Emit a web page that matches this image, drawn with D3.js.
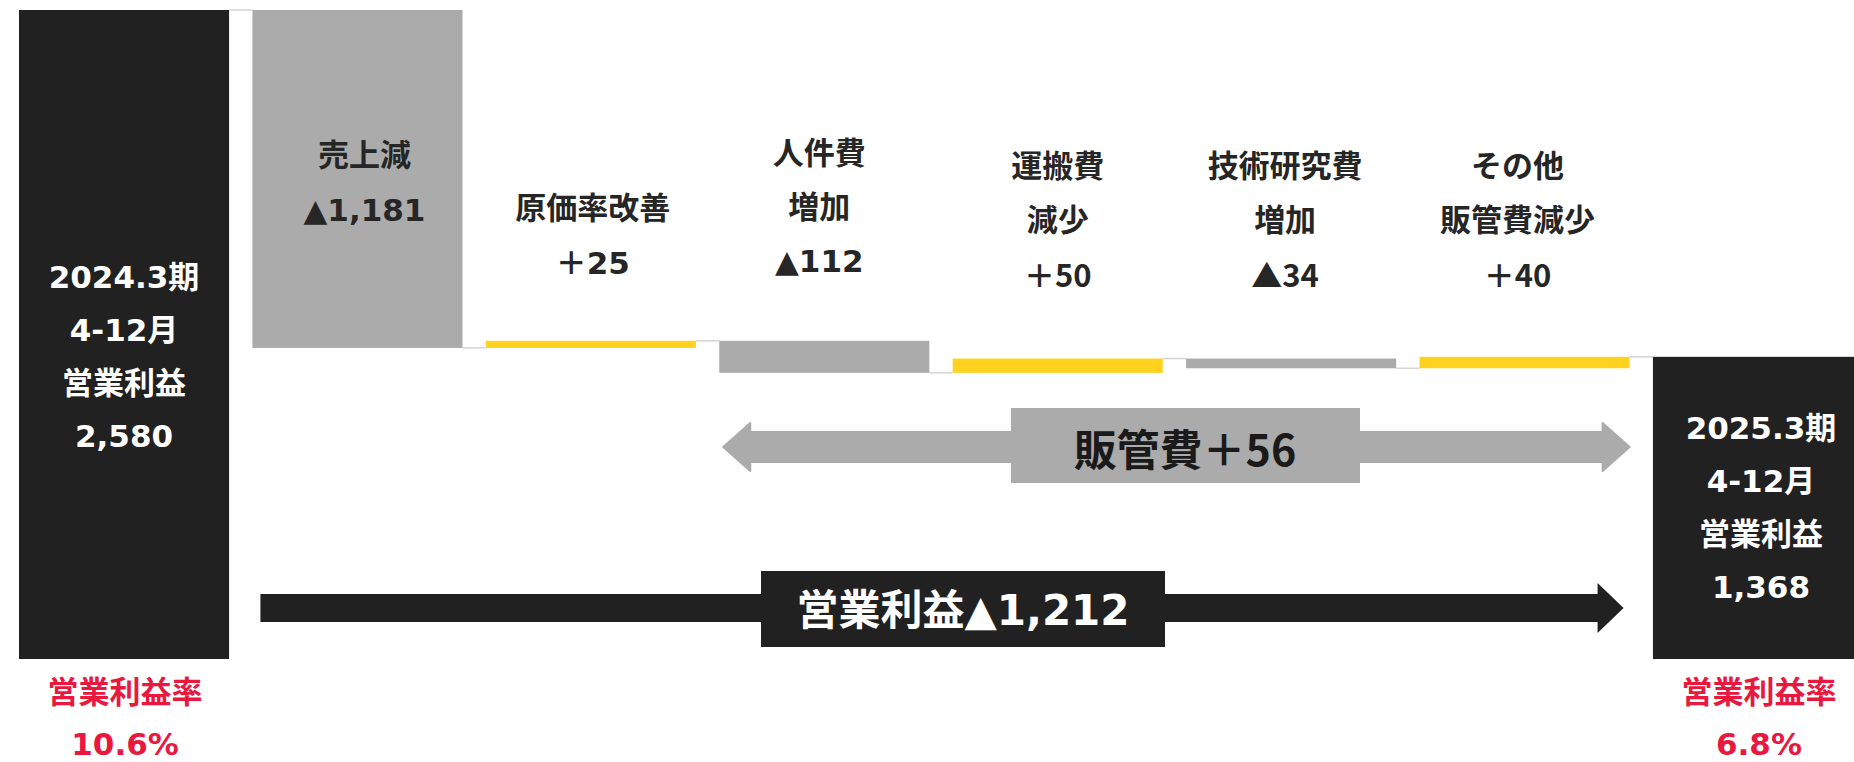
<!DOCTYPE html>
<meta charset="utf-8">
<style>
    body {
        margin: 0;
        background: #fff;
    }

    text {
        font-family: "DejaVu Sans", "Noto Sans CJK JP", sans-serif;
        font-weight: bold;
    }

    text.narrow {
        font-family: "Noto Sans CJK JP", sans-serif;
    }
</style>

<body>
    <script src="https://d3js.org/d3.v7.min.js"></script>
    <script>
        var width = 1854,
            height = 762;

        // data
        var categories = ['2024.3期', '売上減', '原価率改善', '人件費増加', '運搬費減少', '技術研究費増加', 'その他販管費減少', '2025.3期'];
        var values = [2580, -1181, 25, -112, 50, -34, 40, 1368];
        var kinds = ['total', 'delta', 'delta', 'delta', 'delta', 'delta', 'delta', 'total'];
        var labels = [
            ['2024.3期', '4-12月', '営業利益', '2,580'],
            ['売上減', '▲1,181'],
            ['原価率改善', '＋25'],
            ['人件費', '増加', '▲112'],
            ['運搬費', '減少', '＋50'],
            ['技術研究費', '増加', '▲34'],
            ['その他', '販管費減少', '＋40'],
            ['2025.3期', '4-12月', '営業利益', '1,368']
        ];
        var marginTitle = '営業利益率';
        var marginValues = ['10.6%', '6.8%'];
        var sgaItems = ['人件費増加', '運搬費減少', '技術研究費増加', 'その他販管費減少'];
        var axisMin = 312;

        // waterfall steps
        var running = 0;
        var steps = values.map(function (v, i) {
            var s;
            if (kinds[i] === 'total') {
                s = { start: axisMin, end: v };
                running = v;
            } else {
                s = { start: running, end: running + v };
                running += v;
            }
            s.name = categories[i];
            s.value = v;
            s.kind = kinds[i];
            s.i = i;
            return s;
        });

        var x = d3.scaleBand()
            .domain(categories)
            .range([19, 1863])
            .paddingInner(0.1)
            .paddingOuter(0);

        var y = d3.scaleLinear()
            .domain([axisMin, 2580])
            .range([659, 10]);

        var color = function (d) {
            if (d.kind === 'total') return '#212121';
            return d.value < 0 ? '#ababab' : '#ffd21f';
        };

        var svg = d3.select("body").append("svg")
            .attr("width", width)
            .attr("height", height);

        var bw = x.bandwidth();

        // connectors between bars
        svg.selectAll("line.conn")
            .data(steps.slice(0, -1))
            .enter().append("line")
            .attr("class", "conn")
            .attr("x1", function (d) { return x(d.name) + bw; })
            .attr("x2", function (d) { return x(categories[d.i + 1]); })
            .attr("y1", function (d) { return y(d.end); })
            .attr("y2", function (d) { return y(d.end); })
            .style("stroke", "#d4d4d4")
            .style("stroke-width", 1.5);

        svg.selectAll("rect.bar")
            .data(steps)
            .enter().append("rect")
            .attr("class", "bar")
            .attr("x", function (d) { return x(d.name); })
            .attr("width", bw)
            .attr("y", function (d) { return y(Math.max(d.start, d.end)); })
            .attr("height", function (d) { return Math.abs(y(d.start) - y(d.end)); })
            .style("fill", color);

        // bar labels
        var labelTop = [277, 155, 208, 153, 166, 166, 166, 428];
        var lineGap = [53, 55, 55, 54, 53.5, 53.5, 53.5, 53];
        var labelDx = [0, 7, 2, -5, 0, -6, -7, 3];

        steps.forEach(function (d, i) {
            var cx = x(d.name) + bw / 2 + labelDx[i];
            var narrow = i >= 4 && i <= 6;
            svg.append("g").selectAll("text")
                .data(labels[i])
                .enter().append("text")
                .attr("class", function (t, j) { return narrow && j === labels[i].length - 1 ? 'narrow' : null; })
                .attr("x", cx)
                .attr("y", function (t, j) { return labelTop[i] + j * lineGap[i]; })
                .attr("text-anchor", "middle")
                .attr("dominant-baseline", "central")
                .style("font-size", "31px")
                .style("fill", d.kind === 'total' ? '#ffffff' : '#262626')
                .text(function (t) { return t; });
        });

        // margin labels under the totals
        [0, categories.length - 1].forEach(function (i, k) {
            var cx = x(categories[i]) + bw / 2 + 1;
            svg.append("text")
                .attr("x", cx)
                .attr("y", 692)
                .attr("text-anchor", "middle")
                .attr("dominant-baseline", "central")
                .style("font-size", "31px")
                .style("fill", "#e8183e")
                .text(marginTitle);
            svg.append("text")
                .attr("x", cx)
                .attr("y", 744)
                .attr("text-anchor", "middle")
                .attr("dominant-baseline", "central")
                .style("font-size", "31px")
                .style("fill", "#e8183e")
                .text(marginValues[k]);
        });

        // arrow helper
        function arrowPath(x0, x1, cy, shaft, head, headLen, both) {
            var p = d3.path();
            if (both) {
                p.moveTo(x0, cy);
                p.lineTo(x0 + headLen, cy - head);
                p.lineTo(x0 + headLen, cy - shaft);
            } else {
                p.moveTo(x0, cy - shaft);
            }
            p.lineTo(x1 - headLen, cy - shaft);
            p.lineTo(x1 - headLen, cy - head);
            p.lineTo(x1, cy);
            p.lineTo(x1 - headLen, cy + head);
            p.lineTo(x1 - headLen, cy + shaft);
            if (both) {
                p.lineTo(x0 + headLen, cy + shaft);
                p.lineTo(x0 + headLen, cy + head);
            } else {
                p.lineTo(x0, cy + shaft);
            }
            p.closePath();
            return p.toString();
        }

        // SG&A arrow
        var sgaSum = d3.sum(steps.filter(function (d) { return sgaItems.indexOf(d.name) >= 0; }), function (d) { return d.value; });
        var sgaX0 = x(sgaItems[0]) + 4,
            sgaX1 = x(sgaItems[sgaItems.length - 1]) + bw;
        svg.append("path")
            .attr("d", arrowPath(sgaX0, sgaX1, 447, 15, 24, 27, true))
            .style("fill", "#ababab")
            .style("stroke", "#ababab")
            .style("stroke-width", 2)
            .style("stroke-linejoin", "round");
        svg.append("rect")
            .attr("x", 1011).attr("y", 408)
            .attr("width", 349).attr("height", 75)
            .style("fill", "#ababab");
        svg.append("text")
            .attr("class", "narrow")
            .attr("x", 1185).attr("y", 447)
            .attr("text-anchor", "middle")
            .attr("dominant-baseline", "central")
            .style("font-size", "43px")
            .style("fill", "#1a1a1a")
            .text('販管費＋' + Math.abs(sgaSum));

        // operating profit arrow
        var diff = values[values.length - 1] - values[0];
        var opX0 = x(categories[1]) + 8,
            opX1 = x(categories[6]) + bw - 6;
        svg.append("path")
            .attr("d", arrowPath(opX0, opX1, 608, 14, 25, 26, false))
            .style("fill", "#212121");
        svg.append("rect")
            .attr("x", 761).attr("y", 571)
            .attr("width", 404).attr("height", 76)
            .style("fill", "#212121");
        svg.append("text")
            .attr("x", 963).attr("y", 610)
            .attr("text-anchor", "middle")
            .attr("dominant-baseline", "central")
            .style("font-size", "42px")
            .style("fill", "#ffffff")
            .text('営業利益' + (diff < 0 ? '▲' : '＋') + d3.format(',')(Math.abs(diff)));
    </script>
</body>
